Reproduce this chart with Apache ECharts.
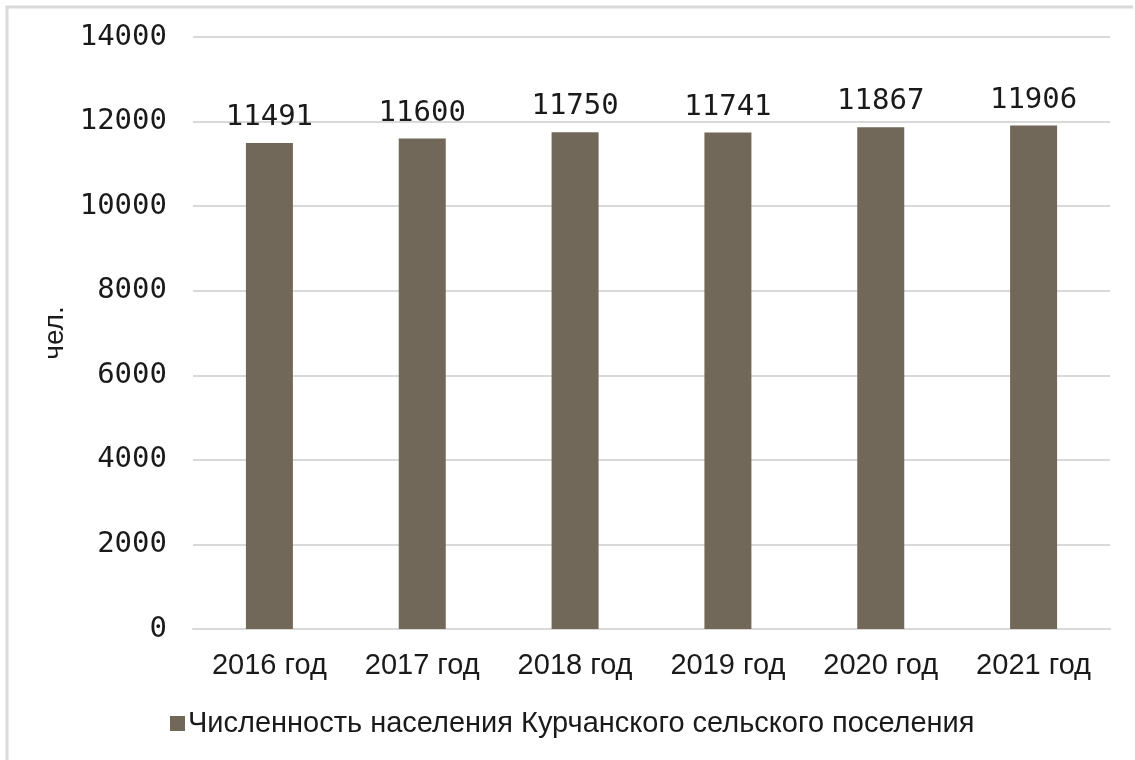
<!DOCTYPE html>
<html>
<head>
<meta charset="utf-8">
<script src="https://cdn.jsdelivr.net/npm/echarts@6/dist/echarts.min.js"></script>
<style>
  html, body { margin: 0; padding: 0; background: #fff; }
  #chart { width: 1135px; height: 760px; }
</style>
</head>
<body>
<div id="chart"></div>
<script>
// данные диаграммы
const years = ["2016 год", "2017 год", "2018 год", "2019 год", "2020 год", "2021 год"];
const population = [11491, 11600, 11750, 11741, 11867, 11906];
const seriesName = "Численность населения Курчанского сельского поселения";
const yName = "чел.";

const chart = echarts.init(document.getElementById("chart"));

const option = {
  animation: false,
  graphic: [
    {
      // рамка сверху и слева
      type: "polyline",
      shape: { points: [[7, 760], [7, 7], [1133, 7]] },
      style: { stroke: "#d9d9d9", lineWidth: 3, fill: null },
    },
  ],
  grid: {
    left: 193,
    right: 25,
    top: 37,
    bottom: 131,
  },
  legend: {
    left: 165,
    top: 704,
    icon: "rect",
    itemWidth: 15,
    itemHeight: 15,
    itemGap: 6,
    textStyle: {
      fontFamily: "Liberation Sans",
      fontSize: 29,
      color: "#1a1a1a",
      padding: [0, 0, 0, -2],
    },
  },
  xAxis: {
    type: "category",
    data: years,
    axisTick: { show: false },
    axisLine: { lineStyle: { color: "#d9d9d9", width: 2 } },
    axisLabel: {
      fontFamily: "Liberation Sans",
      fontSize: 29,
      color: "#1a1a1a",
      margin: 22,
    },
  },
  yAxis: {
    type: "value",
    min: 0,
    max: 14000,
    interval: 2000,
    name: yName,
    nameLocation: "middle",
    nameGap: 116,
    nameRotate: 90,
    nameTextStyle: {
      fontFamily: "Liberation Sans",
      fontSize: 28,
      color: "#1a1a1a",
    },
    axisLine: { show: false },
    axisTick: { show: false },
    splitLine: { lineStyle: { color: "#d9d9d9", width: 2 } },
    axisLabel: {
      fontFamily: "DejaVu Sans Mono",
      fontSize: 29,
      color: "#1a1a1a",
      margin: 26,
      formatter: (v) => String(v),
    },
  },
  series: [
    {
      name: seriesName,
      type: "bar",
      data: population,
      barWidth: 47,
      itemStyle: { color: "#716859" },
      label: {
        show: true,
        position: "top",
        distance: 11,
        fontFamily: "DejaVu Sans Mono",
        fontSize: 29,
        color: "#1a1a1a",
      },
    },
  ],
};

chart.setOption(option);
</script>
</body>
</html>
